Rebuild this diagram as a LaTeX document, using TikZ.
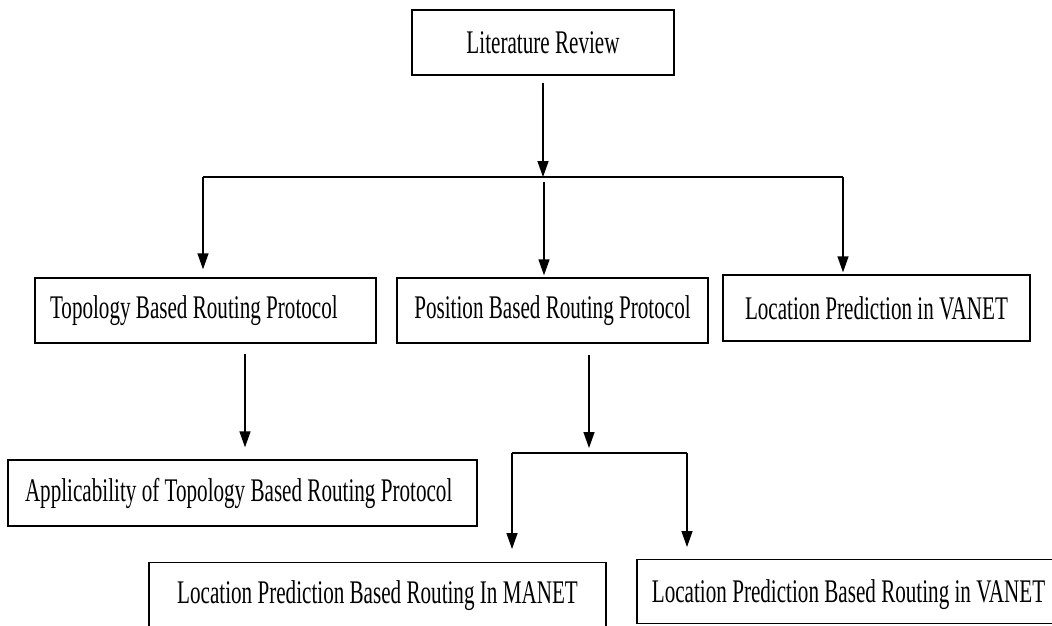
\documentclass[tikz,border=0pt]{standalone}
\usepackage{fontspec}
\setmainfont[FakeStretch=0.64]{Liberation Serif}
\usetikzlibrary{arrows.meta}
\begin{document}
\begin{tikzpicture}[x=1pt,y=-1pt,
  box/.style={draw, line width=1.4pt, rectangle, inner sep=0pt,
    font=\fontsize{33}{36}\selectfont},
  arr/.style={line width=1.4pt, -{Triangle[length=16pt,width=11pt]}},
  ln/.style={line width=1.4pt}]
\clip (0,0) rectangle (1052,625);
\fill[white] (0,0) rectangle (1052,625);
% nodes
\node[box, minimum width=262pt, minimum height=65pt] (lit) at (543,42.5) {Literature Review};
\node[box, minimum height=65pt, inner xsep=15pt] (topo) at (205.5,310.5) {\makebox[311pt][l]{Topology Based Routing Protocol}};
\node[box, minimum width=311pt, minimum height=65pt] (pos) at (552.5,310.5) {Position Based Routing Protocol};
\node[box, minimum width=307pt, minimum height=66pt] (locv) at (876.5,308) {Location Prediction in VANET};
\node[box, minimum height=66pt, inner xsep=17pt] (appl) at (242.5,493) {\makebox[435pt][l]{Applicability of Topology Based Routing Protocol}};
\node[box, anchor=north, minimum width=457pt, text height=41pt, text depth=40pt] (manet) at (377.5,562) {Location Prediction Based Routing In MANET};
\node[box, anchor=north, minimum width=423pt, text height=43pt, text depth=21pt] (vanet) at (848.5,559) {Location Prediction Based Routing in VANET};
% junctions
\coordinate (j1) at (543,177);
\coordinate (jl) at (203,177);
\coordinate (jr) at (843,177);
\coordinate (jm) at (544,182);
\coordinate (j2) at (589,453);
\coordinate (j2l) at (512,453);
\coordinate (j2r) at (687,453);
% connectors
\draw[arr] ([yshift=-7pt]lit.south) -- (j1);
\draw[ln] (jl) -- (jr);
\draw[arr, shorten >=8pt] (jl) -- (topo.north -| jl);
\draw[arr, shorten >=2pt] (jr) -- (locv.north -| jr);
\draw[arr, shorten >=2pt] (jm) -- (pos.north -| jm);
\draw[arr, shorten <=10pt, shorten >=12pt] (topo.south -| 245,0) -- (appl.north -| 245,0);
\draw[arr, shorten <=11pt, shorten >=5pt] (pos.south -| j2) -- (j2);
\draw[ln] (j2l) -- (j2r);
\draw[arr, shorten >=13pt] (j2l) -- (manet.north -| j2l);
\draw[arr, shorten >=12pt] (j2r) -- (vanet.north -| j2r);
\end{tikzpicture}
\end{document}
